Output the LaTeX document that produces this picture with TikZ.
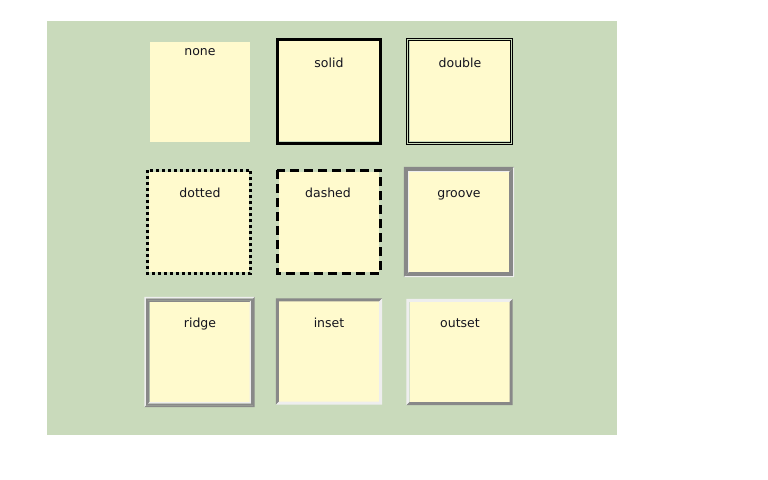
\documentclass[tikz,border=0pt]{standalone}
\usepackage{fontspec}
\setmainfont{DejaVu Sans}
\usetikzlibrary{calc}
\definecolor{bggreen}{RGB}{201,218,187}
\definecolor{boxfill}{RGB}{255,250,205}
\definecolor{bdgray}{RGB}{136,136,136}
\definecolor{bdlight}{RGB}{238,238,238}
\definecolor{txt}{RGB}{20,20,30}
\tikzset{
  boxnode/.style={fill=boxfill, draw=none, inner sep=0pt, minimum width=100bp, minimum height=100bp},
  lbl/.style={anchor=base, inner sep=0pt, text=txt, font=\fontsize{12.5bp}{15bp}\selectfont},
}
% ring between offsets a (inner) and b (outer) around node #1
\newcommand{\myring}[5]{%
  \fill[#4] ($(#1.north west)+(-#3,-#3)$) -- ($(#1.south west)+(-#3,#3)$) -- ($(#1.south west)+(-#2,#2)$)
     -- ($(#1.north west)+(-#2,-#2)$) -- ($(#1.north east)+(#2,-#2)$) -- ($(#1.north east)+(#3,-#3)$) -- cycle;
  \fill[#5] ($(#1.north east)+(#3,-#3)$) -- ($(#1.south east)+(#3,#3)$) -- ($(#1.south west)+(-#3,#3)$)
     -- ($(#1.south west)+(-#2,#2)$) -- ($(#1.south east)+(#2,#2)$) -- ($(#1.north east)+(#2,-#2)$) -- cycle;
}
\begin{document}
\begin{tikzpicture}[x=1bp,y=-1bp]
\useasboundingbox (0,0) rectangle (768,480);
\fill[bggreen] (47,21) rectangle (617,435);

% row 1
\node[boxnode] (bnone) at (200,92) {};
\node[lbl] (tnone) at (200,55.5) {none};

\node[boxnode] (bsolid) at (329,91.5) {};
\draw[line width=3bp, black] ($(bsolid.north west)+(-1.5,-1.5)$) rectangle ($(bsolid.south east)+(1.5,1.5)$);
\node[lbl] (tsolid) at (329,67.5) {solid};

\node[boxnode] (bdouble) at (459.5,91.5) {};
\draw[line width=1bp, black] ($(bdouble.north west)+(-2.5,-2.5)$) rectangle ($(bdouble.south east)+(2.5,2.5)$);
\draw[line width=1bp, black] ($(bdouble.north west)+(-0.5,-0.5)$) rectangle ($(bdouble.south east)+(0.5,0.5)$);
\node[lbl] (tdouble) at (460,67.5) {double};

% row 2
\node[boxnode] (bdotted) at (199,222) {};
\draw[line width=3bp, black, dash pattern=on 3bp off 3bp] ($(bdotted.north west)+(-1.5,-1.5)$) rectangle ($(bdotted.south east)+(1.5,1.5)$);
\node[lbl] (tdotted) at (200,197.5) {dotted};

\node[boxnode] (bdashed) at (329,222) {};
\draw[line width=3bp, black, dash pattern=on 9bp off 5bp] ($(bdashed.north west)+(-1.5,-1.5)$) rectangle ($(bdashed.south east)+(1.5,1.5)$);
\node[lbl] (tdashed) at (328,197.5) {dashed};

\node[boxnode] (bgroove) at (459,222) {};
\myring{bgroove}{0}{1}{bdlight}{bdgray}
\myring{bgroove}{1}{4}{bdgray}{bdgray}
\myring{bgroove}{4}{5}{bdgray}{bdlight}
\node[lbl] (tgroove) at (459,197.5) {groove};

% row 3
\node[boxnode] (bridge) at (199.5,352) {};
\myring{bridge}{0}{1.5}{bdgray}{bdlight}
\myring{bridge}{1.5}{3.5}{bdgray}{bdgray}
\myring{bridge}{3.5}{5}{bdlight}{bdgray}
\node[lbl] (tridge) at (200,327.5) {ridge};

\node[boxnode] (binset) at (329,351.5) {};
\myring{binset}{0}{3}{bdgray}{bdlight}
\node[lbl] (tinset) at (329,327.5) {inset};

\node[boxnode] (boutset) at (459.5,352) {};
\myring{boutset}{0}{3}{bdlight}{bdgray}
\node[lbl] (toutset) at (460,327.5) {outset};
\end{tikzpicture}
\end{document}
